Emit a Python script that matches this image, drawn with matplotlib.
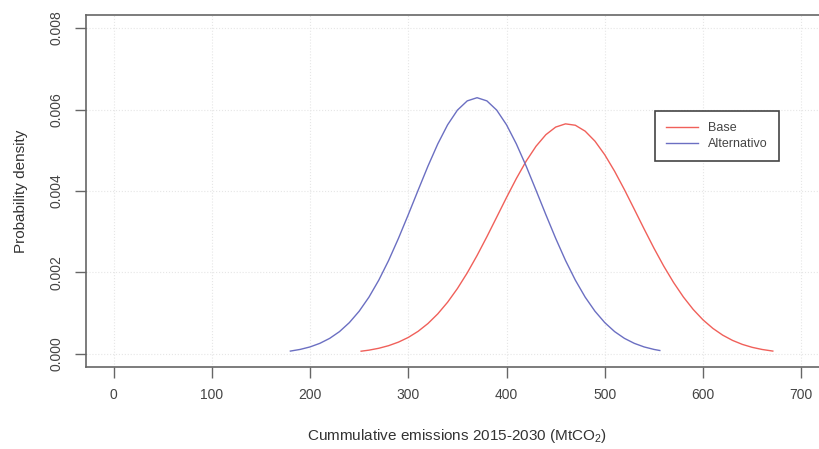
import matplotlib
matplotlib.use("Agg")
import matplotlib.pyplot as plt

plt.rcParams["font.family"] = ["Liberation Sans", "DejaVu Sans"]
plt.rcParams["mathtext.fontset"] = "custom"
plt.rcParams["mathtext.rm"] = "Liberation Sans"

# values
alt_x = [180, 190, 200, 210, 220, 230, 240, 250, 260, 270, 280, 290, 300, 310,
         320, 330, 340, 350, 360, 370, 380, 390, 400, 410, 420, 430, 440, 450,
         460, 470, 480, 490, 500, 510, 520, 530, 540, 550, 556]
alt_y = [0.000071, 0.000112, 0.000173, 0.000261, 0.000383, 0.000549, 0.000769,
         0.001049, 0.001396, 0.001813, 0.002296, 0.002838, 0.003420, 0.004019,
         0.004609, 0.005155, 0.005624, 0.005985, 0.006212, 0.006290, 0.006212,
         0.005985, 0.005624, 0.005155, 0.004609, 0.004019, 0.003420, 0.002838,
         0.002296, 0.001813, 0.001396, 0.001049, 0.000769, 0.000549, 0.000383,
         0.000261, 0.000173, 0.000112, 0.000085]

base_x = [252, 260, 270, 280, 290, 300, 310, 320, 330, 340, 350, 360, 370, 380,
          390, 400, 410, 420, 430, 440, 450, 460, 470, 480, 490, 500, 510, 520,
          530, 540, 550, 560, 570, 580, 590, 600, 610, 620, 630, 640, 650, 660, 671]
base_y = [0.000068, 0.000094, 0.000140, 0.000204, 0.000291, 0.000406, 0.000556,
          0.000747, 0.000984, 0.001270, 0.001606, 0.001990, 0.002417, 0.002878,
          0.003359, 0.003842, 0.004307, 0.004734, 0.005098, 0.005382, 0.005569,
          0.005648, 0.005614, 0.005469, 0.005223, 0.004888, 0.004484, 0.004032,
          0.003553, 0.003069, 0.002598, 0.002156, 0.001754, 0.001398, 0.001092,
          0.000836, 0.000628, 0.000462, 0.000333, 0.000235, 0.000163, 0.000111,
          0.000071]

x_ticks = [0, 100, 200, 300, 400, 500, 600, 700]
y_ticks = [0.000, 0.002, 0.004, 0.006, 0.008]
y_labels = ["0.000", "0.002", "0.004", "0.006", "0.008"]

fig = plt.figure(figsize=(8.19, 4.49), dpi=100)
ax = fig.add_axes([0.105, 0.1826, 0.907, 0.784])

ax.plot(base_x, base_y, color="#f0605a", lw=1.0, label="Base")
ax.plot(alt_x, alt_y, color="#6b6fc2", lw=1.0, label="Alternativo")

ax.set_xlim(-28, 728)
ax.set_ylim(-0.00032, 0.00832)
ax.set_xticks(x_ticks)
ax.set_yticks(y_ticks)
ax.set_yticklabels(y_labels, rotation=90, va="center")

for t in x_ticks:
    ax.axvline(t, color="#e6e6e6", lw=0.8, ls=":", zorder=0)
for t in y_ticks:
    ax.axhline(t, color="#e6e6e6", lw=0.8, ls=":", zorder=0)

for s in ax.spines.values():
    s.set_color("#666666")
    s.set_linewidth(1.2)

ax.tick_params(axis="both", direction="out", length=8, width=1.0,
               color="#666666", labelcolor="#444444", labelsize=10)
ax.tick_params(axis="x", pad=7)
ax.tick_params(axis="y", pad=8)

ax.set_xlabel("Cummulative emissions 2015-2030 (MtCO$_2$)", fontsize=11,
              color="#333333", labelpad=18)
ax.set_ylabel("Probability density", fontsize=11, color="#333333", labelpad=16)

leg = ax.legend(loc="upper left", bbox_to_anchor=(0.757, 0.745), fancybox=False,
                edgecolor="#444444", fontsize=9, handlelength=2.6,
                borderpad=0.9, labelspacing=0.3, framealpha=1)
leg.get_frame().set_linewidth(1.2)
for txt in leg.get_texts():
    txt.set_color("#444444")

fig.savefig("out.png", dpi=100)
